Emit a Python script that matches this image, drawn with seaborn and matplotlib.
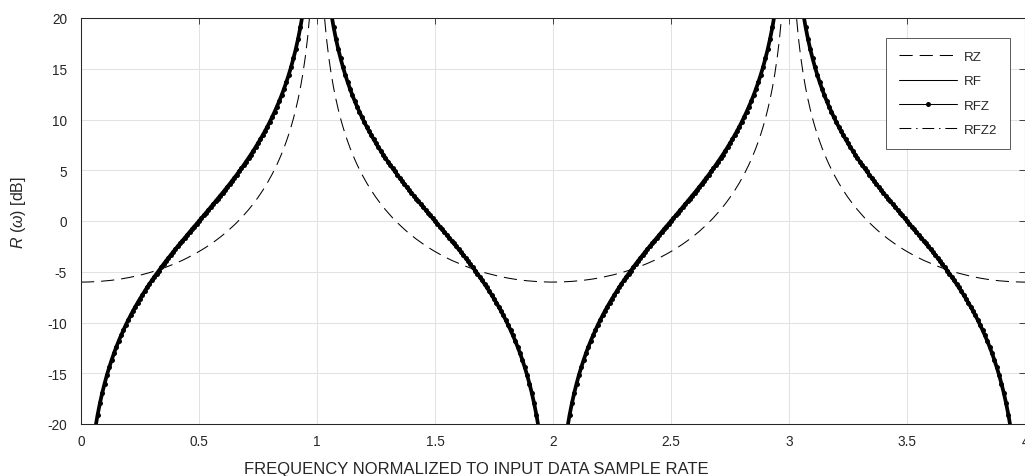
import numpy as np
import matplotlib
matplotlib.use("Agg")
import matplotlib.pyplot as plt
import seaborn as sns

nan = float("nan")

# sampling grid of the normalized frequency axis (0 .. 4, step 0.01)
freq = np.linspace(0.0, 4.0, 401)

# RZ response [dB]
rz_db = [
    -6.02, -6.02, -6.02, -6.01, -6.00, -5.99, -5.98, -5.97, -5.95, -5.93,
    -5.91, -5.89, -5.87, -5.84, -5.81, -5.78, -5.74, -5.71, -5.67, -5.63,
    -5.58, -5.54, -5.49, -5.44, -5.39, -5.33, -5.28, -5.21, -5.15, -5.09,
    -5.02, -4.95, -4.87, -4.80, -4.72, -4.64, -4.55, -4.46, -4.37, -4.28,
    -4.18, -4.08, -3.97, -3.87, -3.76, -3.64, -3.52, -3.40, -3.27, -3.14,
    -3.01, -2.87, -2.73, -2.58, -2.43, -2.27, -2.11, -1.94, -1.77, -1.59,
    -1.40, -1.21, -1.02, -0.81, -0.60, -0.38, -0.16, 0.08, 0.32, 0.58,
    0.84, 1.11, 1.40, 1.69, 2.00, 2.32, 2.66, 3.01, 3.38, 3.77,
    4.18, 4.61, 5.07, 5.55, 6.07, 6.62, 7.20, 7.84, 8.52, 9.27,
    10.09, 11.00, 12.02, 13.17, 14.51, 16.09, 18.02, 20.52, 24.04, 30.06,
    nan, 30.06, 24.04, 20.52, 18.02, 16.09, 14.51, 13.17, 12.02, 11.00,
    10.09, 9.27, 8.52, 7.84, 7.20, 6.62, 6.07, 5.55, 5.07, 4.61,
    4.18, 3.77, 3.38, 3.01, 2.66, 2.32, 2.00, 1.69, 1.40, 1.11,
    0.84, 0.58, 0.32, 0.08, -0.16, -0.38, -0.60, -0.81, -1.02, -1.21,
    -1.40, -1.59, -1.77, -1.94, -2.11, -2.27, -2.43, -2.58, -2.73, -2.87,
    -3.01, -3.14, -3.27, -3.40, -3.52, -3.64, -3.76, -3.87, -3.97, -4.08,
    -4.18, -4.28, -4.37, -4.46, -4.55, -4.64, -4.72, -4.80, -4.87, -4.95,
    -5.02, -5.09, -5.15, -5.21, -5.28, -5.33, -5.39, -5.44, -5.49, -5.54,
    -5.58, -5.63, -5.67, -5.71, -5.74, -5.78, -5.81, -5.84, -5.87, -5.89,
    -5.91, -5.93, -5.95, -5.97, -5.98, -5.99, -6.00, -6.01, -6.02, -6.02,
    -6.02, -6.02, -6.02, -6.01, -6.00, -5.99, -5.98, -5.97, -5.95, -5.93,
    -5.91, -5.89, -5.87, -5.84, -5.81, -5.78, -5.74, -5.71, -5.67, -5.63,
    -5.58, -5.54, -5.49, -5.44, -5.39, -5.33, -5.28, -5.21, -5.15, -5.09,
    -5.02, -4.95, -4.87, -4.80, -4.72, -4.64, -4.55, -4.46, -4.37, -4.28,
    -4.18, -4.08, -3.97, -3.87, -3.76, -3.64, -3.52, -3.40, -3.27, -3.14,
    -3.01, -2.87, -2.73, -2.58, -2.43, -2.27, -2.11, -1.94, -1.77, -1.59,
    -1.40, -1.21, -1.02, -0.81, -0.60, -0.38, -0.16, 0.08, 0.32, 0.58,
    0.84, 1.11, 1.40, 1.69, 2.00, 2.32, 2.66, 3.01, 3.38, 3.77,
    4.18, 4.61, 5.07, 5.55, 6.07, 6.62, 7.20, 7.84, 8.52, 9.27,
    10.09, 11.00, 12.02, 13.17, 14.51, 16.09, 18.02, 20.52, 24.04, 30.06,
    nan, 30.06, 24.04, 20.52, 18.02, 16.09, 14.51, 13.17, 12.02, 11.00,
    10.09, 9.27, 8.52, 7.84, 7.20, 6.62, 6.07, 5.55, 5.07, 4.61,
    4.18, 3.77, 3.38, 3.01, 2.66, 2.32, 2.00, 1.69, 1.40, 1.11,
    0.84, 0.58, 0.32, 0.08, -0.16, -0.38, -0.60, -0.81, -1.02, -1.21,
    -1.40, -1.59, -1.77, -1.94, -2.11, -2.27, -2.43, -2.58, -2.73, -2.87,
    -3.01, -3.14, -3.27, -3.40, -3.52, -3.64, -3.76, -3.87, -3.97, -4.08,
    -4.18, -4.28, -4.37, -4.46, -4.55, -4.64, -4.72, -4.80, -4.87, -4.95,
    -5.02, -5.09, -5.15, -5.21, -5.28, -5.33, -5.39, -5.44, -5.49, -5.54,
    -5.58, -5.63, -5.67, -5.71, -5.74, -5.78, -5.81, -5.84, -5.87, -5.89,
    -5.91, -5.93, -5.95, -5.97, -5.98, -5.99, -6.00, -6.01, -6.02, -6.02,
    -6.02,
]

# RF response [dB] (RFZ and RFZ2 lie on top of it)
rf_db = [
    nan, -36.08, -30.05, -26.53, -24.03, -22.08, -20.49, -19.14, -17.97, -16.93,
    -16.01, -15.16, -14.39, -13.68, -13.01, -12.39, -11.81, -11.26, -10.74, -10.24,
    -9.76, -9.31, -8.87, -8.45, -8.05, -7.66, -7.28, -6.91, -6.55, -6.20,
    -5.86, -5.52, -5.20, -4.88, -4.56, -4.25, -3.95, -3.65, -3.35, -3.06,
    -2.77, -2.49, -2.21, -1.93, -1.65, -1.37, -1.09, -0.82, -0.55, -0.27,
    0.00, 0.27, 0.55, 0.82, 1.09, 1.37, 1.65, 1.93, 2.21, 2.49,
    2.77, 3.06, 3.35, 3.65, 3.95, 4.25, 4.56, 4.88, 5.20, 5.52,
    5.86, 6.20, 6.55, 6.91, 7.28, 7.66, 8.05, 8.45, 8.87, 9.31,
    9.76, 10.24, 10.74, 11.26, 11.81, 12.39, 13.01, 13.68, 14.39, 15.16,
    16.01, 16.93, 17.97, 19.14, 20.49, 22.08, 24.03, 26.53, 30.05, 36.08,
    nan, 36.08, 30.05, 26.53, 24.03, 22.08, 20.49, 19.14, 17.97, 16.93,
    16.01, 15.16, 14.39, 13.68, 13.01, 12.39, 11.81, 11.26, 10.74, 10.24,
    9.76, 9.31, 8.87, 8.45, 8.05, 7.66, 7.28, 6.91, 6.55, 6.20,
    5.86, 5.52, 5.20, 4.88, 4.56, 4.25, 3.95, 3.65, 3.35, 3.06,
    2.77, 2.49, 2.21, 1.93, 1.65, 1.37, 1.09, 0.82, 0.55, 0.27,
    0.00, -0.27, -0.55, -0.82, -1.09, -1.37, -1.65, -1.93, -2.21, -2.49,
    -2.77, -3.06, -3.35, -3.65, -3.95, -4.25, -4.56, -4.88, -5.20, -5.52,
    -5.86, -6.20, -6.55, -6.91, -7.28, -7.66, -8.05, -8.45, -8.87, -9.31,
    -9.76, -10.24, -10.74, -11.26, -11.81, -12.39, -13.01, -13.68, -14.39, -15.16,
    -16.01, -16.93, -17.97, -19.14, -20.49, -22.08, -24.03, -26.53, -30.05, -36.08,
    nan, -36.08, -30.05, -26.53, -24.03, -22.08, -20.49, -19.14, -17.97, -16.93,
    -16.01, -15.16, -14.39, -13.68, -13.01, -12.39, -11.81, -11.26, -10.74, -10.24,
    -9.76, -9.31, -8.87, -8.45, -8.05, -7.66, -7.28, -6.91, -6.55, -6.20,
    -5.86, -5.52, -5.20, -4.88, -4.56, -4.25, -3.95, -3.65, -3.35, -3.06,
    -2.77, -2.49, -2.21, -1.93, -1.65, -1.37, -1.09, -0.82, -0.55, -0.27,
    0.00, 0.27, 0.55, 0.82, 1.09, 1.37, 1.65, 1.93, 2.21, 2.49,
    2.77, 3.06, 3.35, 3.65, 3.95, 4.25, 4.56, 4.88, 5.20, 5.52,
    5.86, 6.20, 6.55, 6.91, 7.28, 7.66, 8.05, 8.45, 8.87, 9.31,
    9.76, 10.24, 10.74, 11.26, 11.81, 12.39, 13.01, 13.68, 14.39, 15.16,
    16.01, 16.93, 17.97, 19.14, 20.49, 22.08, 24.03, 26.53, 30.05, 36.08,
    nan, 36.08, 30.05, 26.53, 24.03, 22.08, 20.49, 19.14, 17.97, 16.93,
    16.01, 15.16, 14.39, 13.68, 13.01, 12.39, 11.81, 11.26, 10.74, 10.24,
    9.76, 9.31, 8.87, 8.45, 8.05, 7.66, 7.28, 6.91, 6.55, 6.20,
    5.86, 5.52, 5.20, 4.88, 4.56, 4.25, 3.95, 3.65, 3.35, 3.06,
    2.77, 2.49, 2.21, 1.93, 1.65, 1.37, 1.09, 0.82, 0.55, 0.27,
    0.00, -0.27, -0.55, -0.82, -1.09, -1.37, -1.65, -1.93, -2.21, -2.49,
    -2.77, -3.06, -3.35, -3.65, -3.95, -4.25, -4.56, -4.88, -5.20, -5.52,
    -5.86, -6.20, -6.55, -6.91, -7.28, -7.66, -8.05, -8.45, -8.87, -9.31,
    -9.76, -10.24, -10.74, -11.26, -11.81, -12.39, -13.01, -13.68, -14.39, -15.16,
    -16.01, -16.93, -17.97, -19.14, -20.49, -22.08, -24.03, -26.53, -30.05, -36.08,
    nan,
]
rfz_db = list(rf_db)
rfz2_db = list(rf_db)

series_labels = ["RZ", "RF", "RFZ", "RFZ2"]
x_ticks = [0, 0.5, 1, 1.5, 2, 2.5, 3, 3.5, 4]
x_tick_labels = ["0", "0.5", "1", "1.5", "2", "2.5", "3", "3.5", "4"]
y_ticks = [-20, -15, -10, -5, 0, 5, 10, 15, 20]
y_tick_labels = ["-20", "-15", "-10", "-5", "0", "5", "10", "15", "20"]
x_label = "FREQUENCY NORMALIZED TO INPUT DATA SAMPLE RATE"
y_label = r"$R$ ($\omega$) [dB]"

sns.set_style("white")
plt.rcParams["font.family"] = ["Liberation Sans", "DejaVu Sans"]
plt.rcParams["mathtext.fontset"] = "custom"
plt.rcParams["mathtext.rm"] = "Liberation Sans"
plt.rcParams["mathtext.it"] = "Liberation Sans:italic"
plt.rcParams["lines.scale_dashes"] = False

W, H = 1025, 477
fig = plt.figure(figsize=(W / 100, H / 100), dpi=100, facecolor="white")
ax = fig.add_axes([81 / W, 52 / H, 944 / W, 406 / H])
ax.set_facecolor("white")

dark = "#262626"

sns.lineplot(x=freq, y=rz_db, ax=ax, color="k", linewidth=0.75,
             label=series_labels[0], estimator=None, sort=False)
ax.lines[-1].set_dashes([9.5, 5])

sns.lineplot(x=freq, y=rf_db, ax=ax, color="k", linewidth=0.75,
             label=series_labels[1], estimator=None, sort=False)

sns.lineplot(x=freq, y=rfz_db, ax=ax, color="k", linewidth=2.7,
             marker="o", markersize=3.6, markeredgewidth=0,
             label=series_labels[2], estimator=None, sort=False)

sns.lineplot(x=freq, y=rfz2_db, ax=ax, color="k", linewidth=0.75,
             label=series_labels[3], estimator=None, sort=False)
ax.lines[-1].set_dashes([8.5, 3.5, 1.0, 3.5])

ax.set_xlim(0, 4)
ax.set_ylim(-20, 20)
ax.set_xticks(x_ticks, x_tick_labels)
ax.set_yticks(y_ticks, y_tick_labels)
ax.tick_params(direction="in", length=4.5, width=0.6, colors=dark,
               labelsize=9.8, top=True, right=True)
ax.tick_params(axis="x", pad=7)
ax.tick_params(axis="y", pad=10)
ax.grid(True, color="#e2e2e2", linewidth=0.75)
ax.set_axisbelow(True)
for sp in ax.spines.values():
    sp.set_visible(True)
    sp.set_color(dark)
    sp.set_linewidth(0.75)

ax.set_xlabel(x_label, fontsize=12, color=dark)
ax.xaxis.set_label_coords((476 - 81) / 944, -(462 - 425) / 406)
ax.set_ylabel(y_label, fontsize=11.5, color=dark)
ax.yaxis.set_label_coords((28 - 81) / 944, (425 - 212.5) / 406)

leg = ax.legend(loc="upper right",
                bbox_to_anchor=((1010 - 81) / 944, (425 - 39) / 406),
                borderaxespad=0, fontsize=9.6, handlelength=4.4,
                handletextpad=0.5, labelspacing=0.9, borderpad=0.95,
                frameon=True, fancybox=False, edgecolor="#404040",
                framealpha=1, facecolor="white", numpoints=1)
leg.get_frame().set_linewidth(0.6)
for h in leg.get_lines():
    h.set_linewidth(0.75)
for t in leg.get_texts():
    t.set_color(dark)

fig.savefig("out.png", dpi=100, facecolor="white")
